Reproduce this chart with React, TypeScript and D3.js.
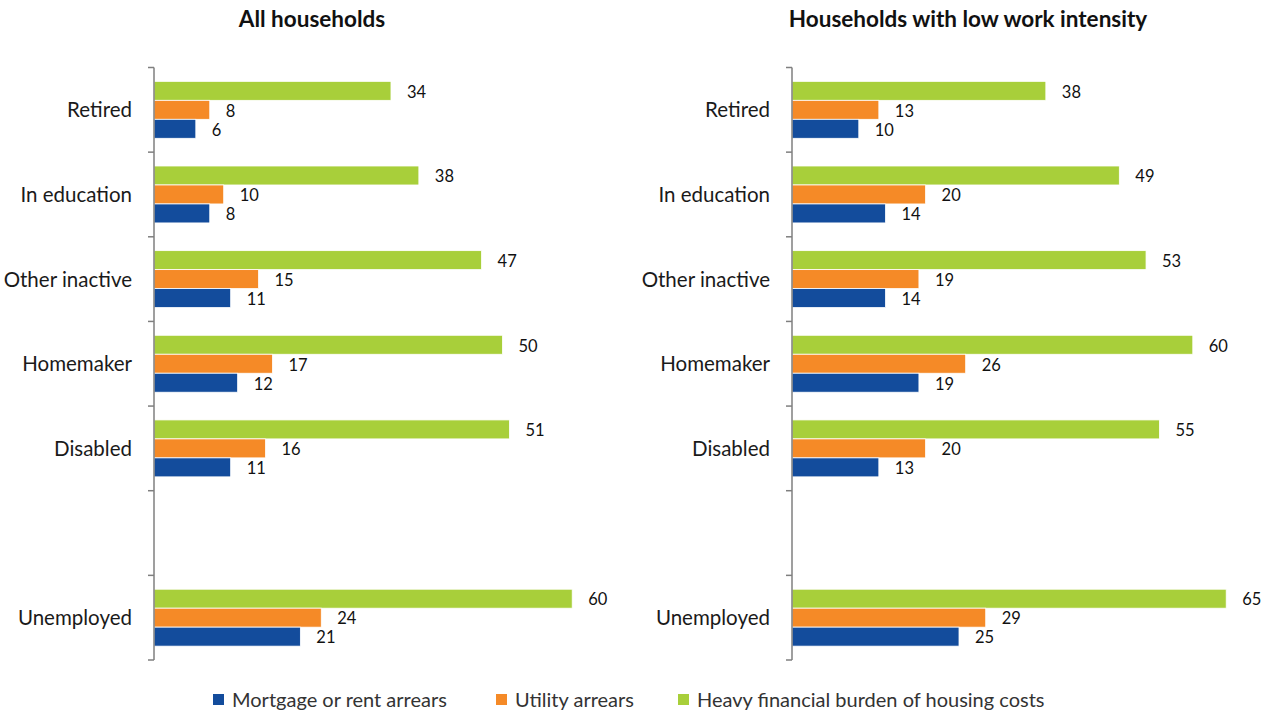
import React from "react";
import * as d3 from "d3";

const categories = ["Retired", "In education", "Other inactive", "Homemaker", "Disabled", "", "Unemployed"];
const seriesKeys = ["heavy", "utility", "mortgage"];
const seriesNames = ["Mortgage or rent arrears", "Utility arrears", "Heavy financial burden of housing costs"];
const seriesColors: Record<string, string> = { mortgage: "#134c9c", utility: "#f58a27", heavy: "#a8cf3a" };

const allMortgage = [6, 8, 11, 12, 11, null, 21];
const allUtility = [8, 10, 15, 17, 16, null, 24];
const allHeavy = [34, 38, 47, 50, 51, null, 60];

const lowMortgage = [10, 14, 14, 19, 13, null, 25];
const lowUtility = [13, 20, 19, 26, 20, null, 29];
const lowHeavy = [38, 49, 53, 60, 55, null, 65];

const W = 1272;
const H = 713;
const FONT = "Lato, 'Open Sans', sans-serif";

type PanelProps = {
  title: string;
  titleX: number;
  x0: number;
  pxPerUnit: number;
  mortgage: (number | null)[];
  utility: (number | null)[];
  heavy: (number | null)[];
};

function Panel({ title, titleX, x0, pxPerUnit, mortgage, utility, heavy }: PanelProps) {
  const y = d3.scaleBand<string>().domain(categories.map((c, i) => i + ":" + c)).range([67.5, 660]).padding(0);
  const inner = d3.scaleBand<string>().domain(seriesKeys).range([0, y.bandwidth()]).paddingInner(0).paddingOuter(0.73);
  const x = d3.scaleLinear().domain([0, 70]).range([x0, x0 + 70 * pxPerUnit]);
  const vals: Record<string, (number | null)[]> = { mortgage, utility, heavy };
  const keys = y.domain();
  const ticks = keys.map((k) => y(k)!).concat([660]);
  return (
    <g>
      <text x={titleX} y={27} textAnchor="middle" fontFamily={FONT} fontWeight={700} fontSize={22.5} fill="#111">
        {title}
      </text>
      {keys.map((k, i) =>
        categories[i] ? (
          <text
            key={"c" + i}
            x={x0 - 22}
            y={y(k)! + y.bandwidth() / 2 + 0.5}
            dy="0.35em"
            textAnchor="end"
            fontFamily={FONT}
            fontSize={20.5}
            fill="#1a1a1a"
          >
            {categories[i]}
          </text>
        ) : null
      )}
      {keys.map((k, i) =>
        seriesKeys.map((s) => {
          const v = vals[s][i];
          if (v == null) return null;
          const by = y(k)! + inner(s)!;
          return (
            <g key={s + i}>
              <rect
                x={x(0)}
                y={by}
                width={x(v) - x(0)}
                height={inner.bandwidth()}
                fill={seriesColors[s]}
                stroke="#fff"
                strokeWidth={0.8}
              />
              <text
                x={x(v) + 16}
                y={by + inner.bandwidth() / 2 + 1}
                dy="0.35em"
                fontFamily={FONT}
                fontSize={16.5}
                fill="#111"
              >
                {v}
              </text>
            </g>
          );
        })
      )}
      <line x1={x0} x2={x0} y1={67.5} y2={660} stroke="#7f7f7f" strokeWidth={1.5} />
      {ticks.map((t, i) => (
        <line key={"t" + i} x1={x0 - 6} x2={x0} y1={t} y2={t} stroke="#7f7f7f" strokeWidth={1.5} />
      ))}
    </g>
  );
}

export default function App() {
  const legendX = [213, 496, 678];
  const legendOrder = ["mortgage", "utility", "heavy"];
  return (
    <svg width={W} height={H} style={{ position: "absolute", left: 0, top: 0, background: "#fff" }}>
      <rect width={W} height={H} fill="#fff" />
      <Panel title="All households" titleX={312} x0={154} pxPerUnit={6.97} mortgage={allMortgage} utility={allUtility} heavy={allHeavy} />
      <Panel
        title="Households with low work intensity"
        titleX={968}
        x0={792}
        pxPerUnit={6.68}
        mortgage={lowMortgage}
        utility={lowUtility}
        heavy={lowHeavy}
      />
      {legendOrder.map((s, i) => (
        <g key={s}>
          <rect x={legendX[i]} y={694} width={11} height={11} fill={seriesColors[s]} />
          <text x={legendX[i] + 19} y={700} dy="0.35em" fontFamily={FONT} fontSize={20} fill="#333">
            {seriesNames[i]}
          </text>
        </g>
      ))}
    </svg>
  );
}
